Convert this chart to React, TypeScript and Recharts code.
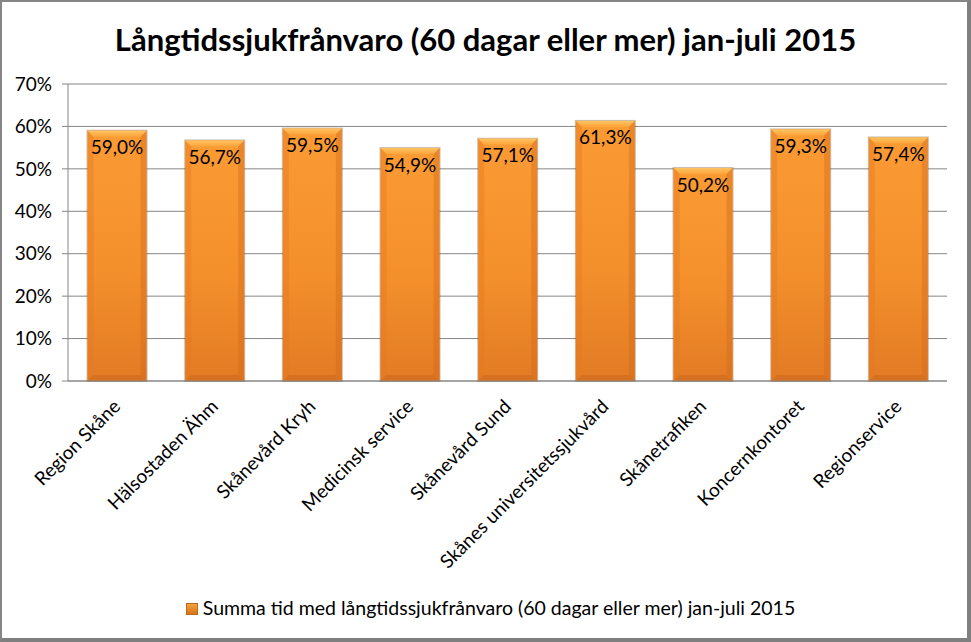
import React from "react";
import { BarChart, Bar, XAxis, YAxis, CartesianGrid, Legend, LabelList } from "recharts";

const categories = [
  "Region Skåne",
  "Hälsostaden Ähm",
  "Skånevård Kryh",
  "Medicinsk service",
  "Skånevård Sund",
  "Skånes universitetssjukvård",
  "Skånetrafiken",
  "Koncernkontoret",
  "Regionservice",
];
const values = [0.59, 0.567, 0.595, 0.549, 0.571, 0.613, 0.502, 0.593, 0.574];
const yTicks = [0, 0.1, 0.2, 0.3, 0.4, 0.5, 0.6, 0.7];
const seriesName = "Summa tid med långtidssjukfrånvaro (60 dagar eller mer) jan-juli 2015";
const title = "Långtidssjukfrånvaro (60 dagar eller mer) jan-juli 2015";

const data = categories.map((name, i) => ({ name, value: values[i] }));

const FONT = "Lato, 'Open Sans', sans-serif";
const GRID = "#868686";

const pct = (v: number) => `${(v * 100).toFixed(1).replace(".", ",")}%`;

function BevelBar(props: any) {
  const { x, y, width, height } = props;
  if (!height || height <= 0) return null;
  const b = 6;
  return (
    <g>
      <rect x={x - 1} y={y - 1} width={width + 2} height={height + 2} fill="rgba(110,70,30,0.35)" />
      <rect x={x} y={y} width={width} height={height} fill="url(#barBody)" />
      <polygon points={`${x},${y} ${x + width},${y} ${x + width - b},${y + b} ${x + b},${y + b}`} fill="url(#barTop)" />
      <polygon points={`${x},${y} ${x + b},${y + b} ${x + b},${y + height - b} ${x},${y + height}`} fill="rgba(230,120,30,0.4)" />
      <polygon points={`${x + width},${y} ${x + width - b},${y + b} ${x + width - b},${y + height - b} ${x + width},${y + height}`} fill="rgba(210,105,25,0.4)" />
      <polygon points={`${x},${y + height} ${x + b},${y + height - b} ${x + width - b},${y + height - b} ${x + width},${y + height}`} fill="rgba(190,95,25,0.35)" />
    </g>
  );
}

function XTick(props: any) {
  const { x, y, payload } = props;
  return (
    <g transform={`translate(${x},${y + 14})`}>
      <text
        x={0}
        y={0}
        dy="0.35em"
        textAnchor="end"
        transform="rotate(-45)"
        fontFamily={FONT}
        fontSize={19}
        fill="#000"
      >
        {payload.value}
      </text>
    </g>
  );
}

function LegendContent() {
  return (
    <div style={{ height: 60, display: "flex", justifyContent: "center", alignItems: "flex-start", paddingTop: 14, paddingLeft: 34, boxSizing: "border-box", fontFamily: FONT, fontSize: 19.5, color: "#000" }}>
      <span style={{ display: "inline-block", width: 10, height: 10, marginTop: 7, marginRight: 5, background: "linear-gradient(180deg,#f3a33e,#d97416)", border: "1px solid #b86a22" }} />
      <span>{seriesName}</span>
    </div>
  );
}

export default function App() {
  return (
    <div style={{ position: "absolute", left: 0, top: 0, width: 971, height: 642, background: "#fff", overflow: "hidden" }}>
      <div style={{ position: "absolute", left: 0, top: 20, width: 971, textAlign: "center", fontFamily: FONT, fontWeight: 700, fontSize: 31, color: "#000" }}>
        {title}
      </div>
      <BarChart width={971} height={642} data={data} margin={{ top: 84, right: 24, left: 0, bottom: 0 }} barCategoryGap="20%">
        <defs>
          <linearGradient id="barBody" x1="0" y1="0" x2="0" y2="1">
            <stop offset="0%" stopColor="#fb9b34" />
            <stop offset="55%" stopColor="#f4902c" />
            <stop offset="100%" stopColor="#e27b24" />
          </linearGradient>
          <linearGradient id="barTop" x1="0" y1="0" x2="0" y2="1">
            <stop offset="0%" stopColor="#ffc461" />
            <stop offset="100%" stopColor="#fca43c" />
          </linearGradient>
        </defs>
        <CartesianGrid vertical={false} stroke={GRID} strokeWidth={1} />
        <XAxis dataKey="name" interval={0} height={201} tickLine={false} axisLine={{ stroke: GRID }} tick={<XTick />} />
        <YAxis
          width={68}
          domain={[0, 0.7]}
          ticks={yTicks}
          tickFormatter={(v: number) => `${Math.round(v * 100)}%`}
          axisLine={{ stroke: GRID }}
          tickLine={{ stroke: GRID }}
          tickSize={6}
          tickMargin={10}
          tick={{ fontFamily: FONT, fontSize: 19, fill: "#000" }}
        />
        <Legend verticalAlign="bottom" height={60} content={<LegendContent />} />
        <Bar dataKey="value" name={seriesName} shape={<BevelBar />} isAnimationActive={false}>
          <LabelList
            dataKey="value"
            content={(p: any) => (
              <text
                x={p.x + p.width / 2}
                y={p.y + 16}
                dominantBaseline="central"
                textAnchor="middle"
                fontFamily={FONT}
                fontSize={19}
                fill="#000"
              >
                {pct(p.value)}
              </text>
            )}
          />
        </Bar>
      </BarChart>
      <div style={{ position: "absolute", left: 0, top: 0, width: 971, height: 642, boxSizing: "border-box", borderTop: "2px solid #868686", borderLeft: "2px solid #868686", borderRight: "4px solid #7f7f7f", borderBottom: "4px solid #7f7f7f", pointerEvents: "none" }} />
    </div>
  );
}
